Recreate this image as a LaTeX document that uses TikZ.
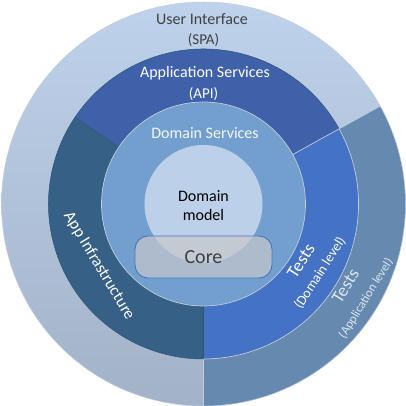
\documentclass[tikz,border=0pt]{standalone}
\usepackage{fontspec}
\setmainfont{Carlito}
\definecolor{uitop}{HTML}{BED2EB}
\definecolor{uibot}{HTML}{A2B2C8}
\definecolor{testsapp}{HTML}{6689B0}
\definecolor{appsvc}{HTML}{3E61A9}
\definecolor{appinfra}{HTML}{366085}
\definecolor{testsdom}{HTML}{4472C4}
\definecolor{domsvc}{HTML}{729FCD}
\definecolor{dommodel}{HTML}{BCD0E9}
\definecolor{corefill}{HTML}{C8C8CC}
\definecolor{coreedge}{HTML}{4A72C0}
\definecolor{lightedge}{HTML}{C3CCDA}
\definecolor{darkedge}{HTML}{2F5373}
\definecolor{darktext}{HTML}{404040}
\definecolor{paletext}{HTML}{DDE6F0}
\tikzset{
  lbl/.style={font=\fontsize{16}{18}\selectfont, align=center, inner sep=0pt},
  sub/.style={font=\fontsize{15}{17}\selectfont},
  lightline/.style={draw=lightedge, line width=0.7pt},
  darkline/.style={draw=darkedge, line width=0.5pt},
}
\begin{document}
\begin{tikzpicture}[x=1pt,y=1pt]
\useasboundingbox (-203.5,-202) rectangle (202.5,204);
\coordinate (c) at (0,0);
% outer ring
\shade[top color=uitop, bottom color=uibot] (c) circle[radius=202];
\fill[testsapp] (c) -- (-90:202) arc[start angle=-90, end angle=29, radius=202] -- cycle;
\draw[lightline] (-90:155) -- (-90:202);
\draw[lightline] (29:155) -- (29:202);
\draw[lightedge, line width=0.5pt] (c) circle[radius=202];
% middle ring
\fill[appsvc] (c) -- (29:155) arc[start angle=29, end angle=146, radius=155] -- cycle;
\fill[appinfra] (c) -- (146:155) arc[start angle=146, end angle=270, radius=155] -- cycle;
\fill[testsdom] (c) -- (-90:155) arc[start angle=-90, end angle=29, radius=155] -- cycle;
\draw[darkline] (29:155) arc[start angle=29, end angle=270, radius=155];
\draw[darkline] (146:100) -- (146:155);
\draw[darkline] (-90:100) -- (-90:155);
\draw[lightline] (29:100) -- (29:155) arc[start angle=29, end angle=-90, radius=155];
% domain services
\fill[domsvc] (c) circle[radius=102];
\draw[lightline] (c) circle[radius=102];
% domain model
\fill[dommodel] (c) circle[radius=59];
% core
\node[draw=coreedge, line width=0.9pt, fill=corefill, fill opacity=0.7, text opacity=1,
  rounded corners=13pt, minimum width=137pt, minimum height=42pt, inner sep=0pt,
  font=\fontsize{20}{22}\selectfont, text=darktext] (core) at (0,-53) {Core};
% labels
\node[lbl, text=darktext] (ui) at (-1.5,185) {User Interface};
\node[lbl, sub, text=darktext] (spa) at (0,164) {(SPA)};
\node[lbl, text=white] (as) at (1.5,131) {Application Services};
\node[lbl, sub, text=white] (api) at (0,110) {(API)};
\node[lbl, text=white!92!domsvc] (ds) at (1.5,71) {Domain Services};
\node[lbl, text=black] (dm1) at (0,8) {Domain};
\node[lbl, text=black] (dm2) at (0,-11) {model};
\node[lbl, text=white, rotate=-59, font=\fontsize{16.5}{18}\selectfont] (infra) at (-104.5,-62) {App Infrastructure};
\node[lbl, text=white, rotate=57, font=\fontsize{18}{20}\selectfont] (td1) at (97.5,-57) {Tests};
\node[lbl, text=white, rotate=57, font=\fontsize{14}{16}\selectfont] (td2) at (116.5,-69) {(Domain level)};
\node[lbl, text=paletext, rotate=58, font=\fontsize{18}{20}\selectfont] (ta1) at (142,-82) {Tests};
\node[lbl, text=paletext, rotate=58, font=\fontsize{12.5}{14}\selectfont] (ta2) at (162.5,-94.5) {(Application level)};
\end{tikzpicture}
\end{document}
